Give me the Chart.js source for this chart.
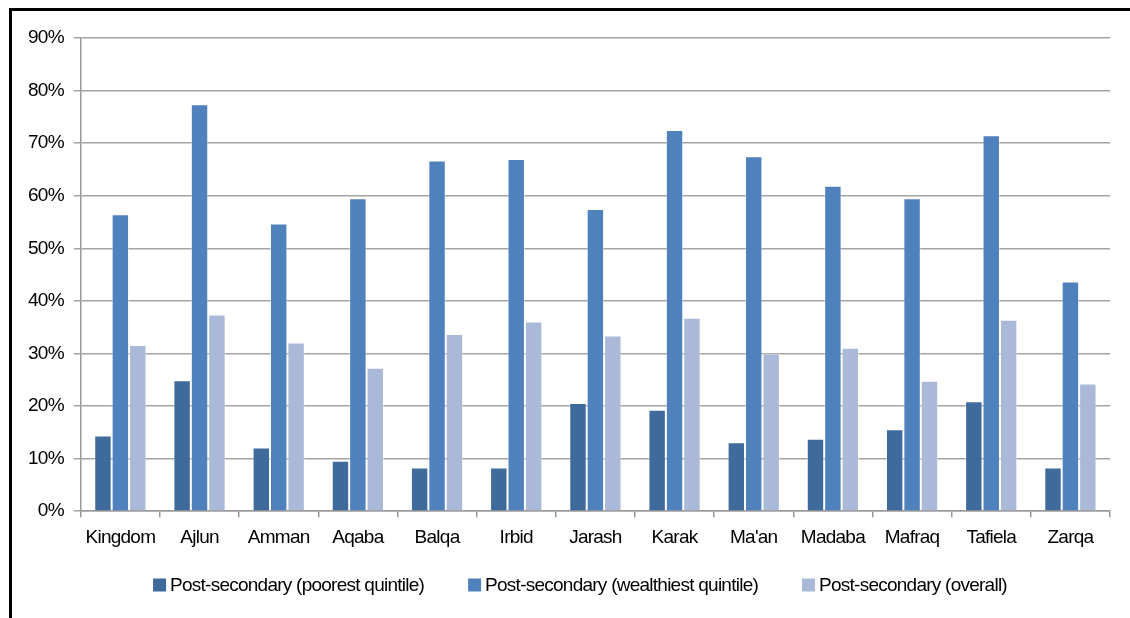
<!DOCTYPE html>
<html>
<head>
<meta charset="utf-8">
<script src="https://cdn.jsdelivr.net/npm/chart.js@4/dist/chart.umd.min.js"></script>
<style>
  html, body { margin: 0; padding: 0; background: #fff; }
  body { width: 1130px; height: 618px; position: relative; overflow: hidden; }
  #frame {
    position: absolute; left: 9px; top: 8px; width: 1121px; height: 610px;
    border-top: 3px solid #000; border-left: 3px solid #000; box-sizing: border-box;
  }
  #wrap { position: absolute; left: 12px; top: 11px; width: 1118px; height: 607px; }
</style>
</head>
<body>
<div id="frame"></div>
<div id="wrap"><canvas id="c"></canvas></div>
<script>
const governorates = ['Kingdom', 'Ajlun', 'Amman', 'Aqaba', 'Balqa', 'Irbid', 'Jarash',
  'Karak', "Ma'an", 'Madaba', 'Mafraq', 'Tafiela', 'Zarqa'];

// Share with post-secondary education, in percent
const poorestQuintile    = [14.4, 24.9, 12.1, 9.6, 8.3, 8.3, 20.6, 19.3, 13.1, 13.8, 15.6, 20.9, 8.3];
const wealthiestQuintile = [56.5, 77.4, 54.7, 59.5, 66.7, 67.0, 57.5, 72.5, 67.5, 61.9, 59.5, 71.5, 43.7];
const overallShare       = [31.6, 37.4, 32.1, 27.3, 33.7, 36.1, 33.4, 36.8, 30.0, 31.1, 24.8, 36.4, 24.3];

const seriesNames = ['Post-secondary (poorest quintile)',
  'Post-secondary (wealthiest quintile)', 'Post-secondary (overall)'];
const seriesColors = ['#3f6a9c', '#4f81bd', '#aab9d7'];

const FONT = '"Liberation Sans", Arial, sans-serif';
const FONT_SIZE = 19;
const TIGHT = '-0.75px';

// Condensed lettering for every text the chart measures and draws
const tightText = {
  id: 'tightText',
  beforeUpdate(chart) { chart.ctx.letterSpacing = TIGHT; },
  beforeLayout(chart) { chart.ctx.letterSpacing = TIGHT; },
  beforeDraw(chart) { chart.ctx.letterSpacing = TIGHT; }
};

// Legend row under the axis: small square swatch, label, wide gap
const bottomLegend = {
  id: 'bottomLegend',
  afterDraw(chart) {
    const ctx = chart.ctx;
    ctx.save();
    ctx.letterSpacing = TIGHT;
    ctx.font = FONT_SIZE + 'px ' + FONT;
    ctx.textBaseline = 'middle';
    ctx.textAlign = 'left';
    const box = 13, gapText = 4, gapItem = 44;
    const items = chart.data.datasets.map(ds => ({
      text: ds.label, color: ds.backgroundColor, w: ctx.measureText(ds.label).width
    }));
    const total = items.reduce((s, it) => s + box + gapText + it.w, 0) + gapItem * (items.length - 1);
    let x = 568 - total / 2;
    const cy = 574;
    items.forEach(it => {
      ctx.fillStyle = it.color;
      ctx.fillRect(x, cy - box / 2, box, box);
      ctx.fillStyle = '#000';
      ctx.fillText(it.text, x + box + gapText, cy + 1);
      x += box + gapText + it.w + gapItem;
    });
    ctx.restore();
  }
};

const edge = 'rgba(255,255,255,0.45)';

new Chart(document.getElementById('c'), {
  type: 'bar',
  data: {
    labels: governorates,
    datasets: seriesNames.map((name, i) => ({
      label: name,
      data: [poorestQuintile, wealthiestQuintile, overallShare][i],
      backgroundColor: seriesColors[i],
      borderColor: edge,
      borderWidth: 1
    }))
  },
  plugins: [tightText, bottomLegend],
  options: {
    responsive: true,
    maintainAspectRatio: false,
    animation: false,
    layout: { padding: { left: 6, right: 20, top: 27, bottom: 60 } },
    datasets: { bar: { categoryPercentage: 0.66, barPercentage: 1.0 } },
    plugins: {
      legend: { display: false },
      tooltip: { enabled: false }
    },
    scales: {
      x: {
        grid: { display: true, drawOnChartArea: false, drawTicks: true, tickLength: 6, color: '#999', lineWidth: 1.5 },
        border: { display: true, color: '#999', width: 1.5 },
        ticks: { font: { family: FONT, size: FONT_SIZE }, color: '#000', padding: 9, maxRotation: 0 }
      },
      y: {
        min: 0, max: 90,
        grid: { color: '#a4a4a4', lineWidth: 1.5, tickLength: 7, drawTicks: true },
        border: { display: true, color: '#999', width: 1.5 },
        ticks: {
          stepSize: 10,
          font: { family: FONT, size: FONT_SIZE },
          color: '#000',
          padding: 10,
          callback: v => v + '%'
        }
      }
    }
  }
});
</script>
</body>
</html>
